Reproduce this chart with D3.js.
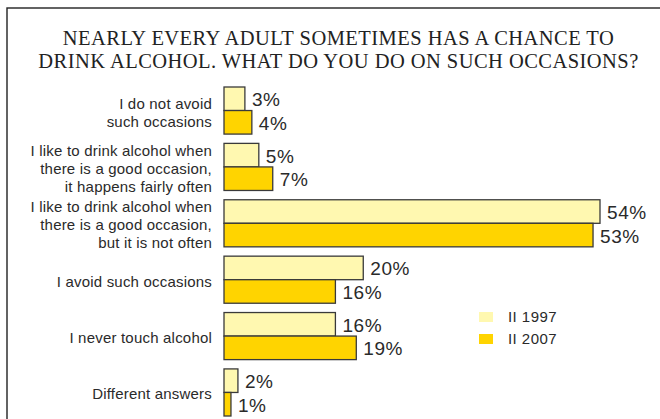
<!DOCTYPE html>
<html>
<head>
<meta charset="utf-8">
<script src="https://cdn.jsdelivr.net/npm/d3@7"></script>
<style>
  html, body { margin: 0; padding: 0; background: #fff; }
  svg { display: block; }
</style>
</head>
<body>
<svg id="chart" width="660" height="419"></svg>
<script>
// Survey answers, two waves
const categories = [
  "I do not avoid such occasions",
  "I like to drink alcohol when there is a good occasion, it happens fairly often",
  "I like to drink alcohol when there is a good occasion, but it is not often",
  "I avoid such occasions",
  "I never touch alcohol",
  "Different answers"
];
const categoryLines = [
  ["I do not avoid", "such occasions"],
  ["I like to drink alcohol when", "there is a good occasion,", "it happens fairly often"],
  ["I like to drink alcohol when", "there is a good occasion,", "but it is not often"],
  ["I avoid such occasions"],
  ["I never touch alcohol"],
  ["Different answers"]
];
const seriesNames = ["II 1997", "II 2007"];
const values1997 = [3, 5, 54, 20, 16, 2];
const values2007 = [4, 7, 53, 16, 19, 1];
const seriesColors = ["#fff8b0", "#ffd400"];
const titleLines = [
  "NEARLY EVERY ADULT SOMETIMES HAS A CHANCE TO",
  "DRINK ALCOHOL. WHAT DO YOU DO ON SUCH OCCASIONS?"
];

const series = [values1997, values2007];
const svg = d3.select("#chart");
const sans = "'Liberation Sans', Arial, Helvetica, sans-serif";

// frame
svg.append("rect")
  .attr("x", 7).attr("y", 8)
  .attr("width", 700).attr("height", 460)
  .attr("fill", "none").attr("stroke", "#222").attr("stroke-width", 1.4);

// title
svg.append("g").selectAll("text")
  .data(titleLines).join("text")
  .attr("x", 338.5)
  .attr("y", (d, i) => 45 + i * 23)
  .attr("text-anchor", "middle")
  .attr("font-family", "'Liberation Serif', 'Times New Roman', serif")
  .attr("font-size", 20.5)
  .attr("letter-spacing", 0.45)
  .attr("fill", "#222")
  .text(d => d);

// scales
const x = d3.scaleLinear().domain([0, 54]).range([224, 600]);
const y = d3.scaleBand().domain(categories).range([87, 416]).paddingInner(0.165).paddingOuter(0).align(0);
const ySub = d3.scaleBand().domain([0, 1]).range([0, y.bandwidth()]);

const groups = svg.append("g").selectAll("g")
  .data(categories).join("g")
  .attr("transform", d => `translate(0,${y(d)})`);

// bars
groups.selectAll("rect")
  .data((d, i) => series.map((s, k) => ({ k, v: s[i] })))
  .join("rect")
  .attr("x", x(0))
  .attr("y", d => ySub(d.k))
  .attr("width", d => x(d.v) - x(0))
  .attr("height", ySub.bandwidth())
  .attr("fill", d => seriesColors[d.k])
  .attr("stroke", "#3a3a3a")
  .attr("stroke-width", 1.3);

// value labels
groups.selectAll("text.val")
  .data((d, i) => series.map((s, k) => ({ k, v: s[i] })))
  .join("text")
  .attr("class", "val")
  .attr("x", d => x(d.v) + 7)
  .attr("y", d => ySub(d.k) + ySub.bandwidth() / 2 + 7.5)
  .attr("font-family", sans)
  .attr("font-size", 19)
  .attr("letter-spacing", 0.6)
  .attr("fill", "#2a2a2a")
  .text(d => d.v + "%");

// category labels
const lineH = 18;
groups.append("text")
  .attr("text-anchor", "end")
  .attr("font-family", sans)
  .attr("font-size", 15)
  .attr("letter-spacing", 0.2)
  .attr("fill", "#2a2a2a")
  .each(function (d, i) {
    const lines = categoryLines[i];
    const mid = y.bandwidth() / 2 + 7;
    const first = mid - (lines.length - 1) * lineH / 2;
    d3.select(this).selectAll("tspan")
      .data(lines).join("tspan")
      .attr("x", 212)
      .attr("y", (t, j) => first + j * lineH)
      .text(t => t);
  });

// legend
const legend = svg.append("g").attr("transform", "translate(479,312)");
const items = legend.selectAll("g").data(seriesNames).join("g")
  .attr("transform", (d, i) => `translate(0,${i * 22})`);
items.append("rect")
  .attr("width", 14).attr("height", 10)
  .attr("fill", (d, i) => seriesColors[i]);
items.append("text")
  .attr("x", 29).attr("y", 10)
  .attr("font-family", sans)
  .attr("font-size", 15)
  .attr("letter-spacing", 0.45)
  .attr("fill", "#2a2a2a")
  .text(d => d);
</script>
</body>
</html>
